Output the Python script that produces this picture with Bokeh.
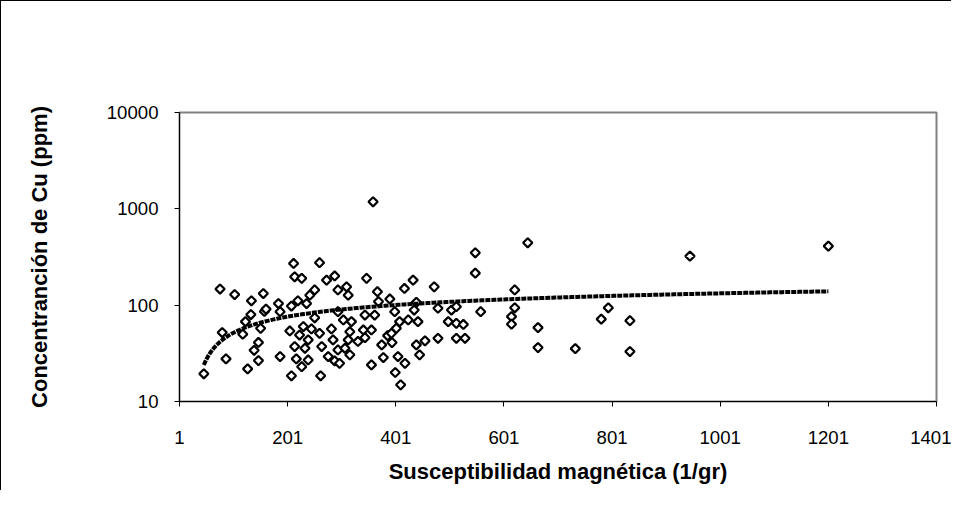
import numpy as np
from bokeh.plotting import figure
from bokeh.models import FixedTicker, NumeralTickFormatter, ColumnDataSource
from bokeh.embed import file_html
from bokeh.resources import INLINE

# Susceptibilidad magnética (1/gr)
sus = [46, 76, 80, 87, 103, 118, 123, 127, 133, 134, 139, 147, 147, 151, 156, 158, 161,
       184, 187, 187, 205, 208, 208, 212, 214, 214, 217, 220, 223, 227, 227, 230, 233, 236,
       239, 239, 242, 245, 251, 251, 260, 260, 262, 264, 273, 276, 282, 285, 288, 288, 294,
       294, 294, 297, 304, 307, 310, 313, 313, 316, 316, 319, 331, 341, 344, 344, 347, 356, 356,
       359, 362, 367, 369, 375, 378, 386, 390, 393, 394, 399, 400, 402, 405, 408, 410, 417,
       418, 424, 433, 435, 439, 439, 442, 445, 455, 472, 479, 479, 498, 504, 513, 513, 513,
       526, 529, 548, 548, 558,
       615, 615, 621, 621, 645, 664, 664, 733, 781, 794, 834, 834, 945, 1201]
# Concentración de Cu (ppm)
cu = [19.4, 147, 52, 27.7, 129, 50, 67.5, 21.8, 80, 111, 34, 41, 26.6, 57.5, 132, 86, 91,
      104, 85.6, 29.3, 54, 98, 18.5, 271, 197, 37.2, 27.7, 111, 49, 190, 23, 60, 35.7, 104,
      43.6, 27, 127, 56.7, 144, 74, 276, 51, 18.5, 37.2, 182, 29.3, 56.7, 43.6, 201, 26.4, 144,
      85.6, 34.3, 24.9, 70.3, 35.7, 155, 127, 43.6, 53, 30.5, 67.5, 42, 55.3, 79, 46, 190, 55.3, 24,
      1183, 79, 138, 109, 38.7, 28.6, 48.3, 116, 51, 40.9, 85.6, 20, 57.5, 29.3, 67.5, 14.9, 149,
      24.9, 70.3, 182, 89, 107, 38.7, 67.5, 30.5, 42.6, 155, 93, 45.3, 67.5, 89, 96.5, 64.8, 45.3,
      63, 45.3, 350, 215, 85.6,
      76, 63.5, 144, 94, 444, 58.5, 36.3, 35.4, 71.6, 94, 69, 33, 323, 410]

# logarithmic trendline: y = a*ln(x) + b
trend_a = 35.3
trend_b = -111.2

x_ticks = [1, 201, 401, 601, 801, 1001, 1201, 1401]
y_ticks = [10, 100, 1000, 10000]

FONT = "Liberation Sans"

p = figure(width=951, height=490, output_backend="svg", toolbar_location=None,
           x_range=(1, 1401), y_range=(10, 10000), y_axis_type="log",
           min_border_left=178, min_border_right=16, min_border_top=111,
           min_border_bottom=90)
p.styles = {"border-left": "1px solid black", "border-top": "1px solid black"}
p.background_fill_color = "white"
p.border_fill_color = "white"
p.outline_line_color = "#808080"
p.outline_line_width = 2
p.xgrid.visible = False
p.ygrid.visible = False

p.xaxis.ticker = FixedTicker(ticks=x_ticks)
p.yaxis.ticker = FixedTicker(ticks=y_ticks)
p.yaxis.formatter = NumeralTickFormatter(format="0")
for ax in (p.xaxis, p.yaxis):
    ax.axis_line_color = "black"
    ax.axis_line_width = 1
    ax.major_tick_line_color = "black"
    ax.major_tick_out = 5
    ax.major_tick_in = 0
    ax.minor_tick_line_color = None
    ax.major_label_text_font = FONT
    ax.major_label_text_font_size = "18.6px"
    ax.major_label_text_color = "black"
    ax.axis_label_text_font = FONT
    ax.axis_label_text_font_size = "22px"
    ax.axis_label_text_font_style = "bold"
    ax.axis_label_text_color = "black"

p.xaxis.axis_label = "Susceptibilidad magnética (1/gr)"
p.yaxis.axis_label = "Concentranción de Cu (ppm)"
p.xaxis.major_label_standoff = 24
p.xaxis.axis_label_standoff = 12
p.yaxis.major_label_standoff = 16
p.yaxis.axis_label_standoff = 52

src = ColumnDataSource(data=dict(x=sus, y=cu))
p.scatter("x", "y", source=src, marker="square", angle=np.pi / 4, size=6.5,
          fill_color="white", line_color="black", line_width=2.2)

tx = np.linspace(min(sus), max(sus), 300)
ty = trend_a * np.log(tx) + trend_b
p.line(tx, ty, line_color="black", line_width=4, line_dash="5 1")

open("out.html", "w").write(file_html(p, INLINE))
